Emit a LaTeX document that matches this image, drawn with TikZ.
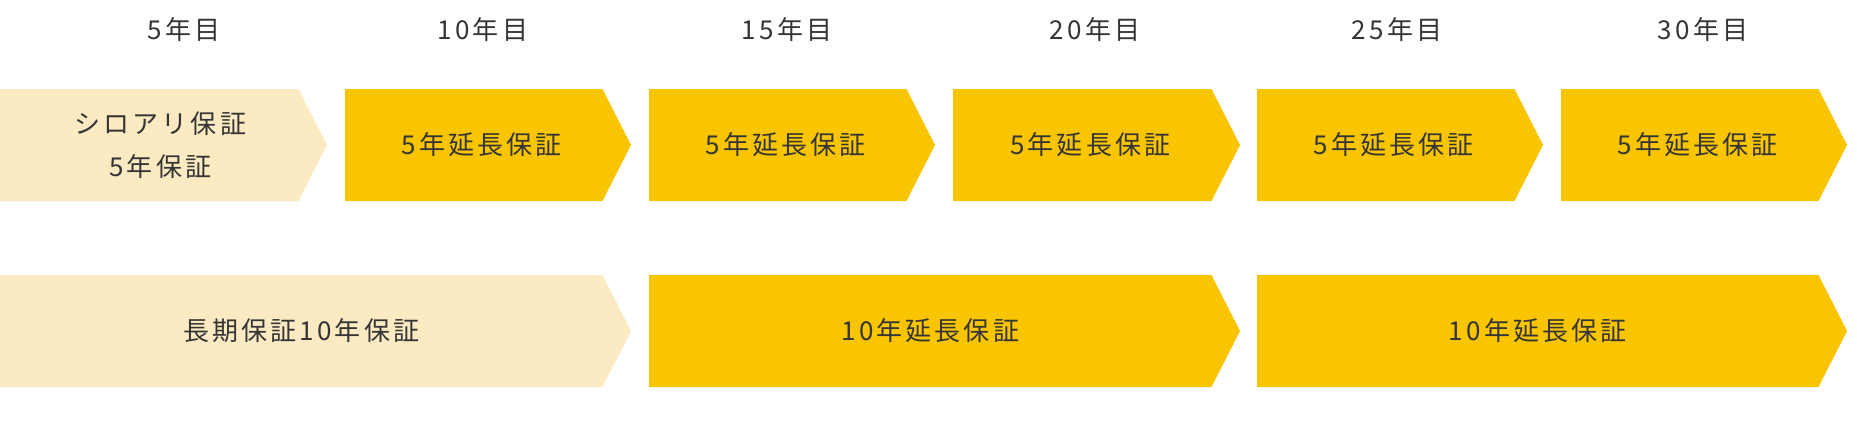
\documentclass[tikz,border=0pt]{standalone}
\usepackage{fontspec}
\setmainfont{Noto Sans CJK JP}[LetterSpace=12]
\usetikzlibrary{shapes.symbols}
\definecolor{paleyellow}{HTML}{FBEAC2}
\definecolor{gold}{HTML}{F9C500}
\definecolor{textgray}{HTML}{353535}
\newcommand{\nudge}{\hspace*{16pt}}
\tikzset{
	plan/.style={signal, signal to=east, signal from=nowhere, signal pointer angle=126, minimum height=112pt, inner sep=0pt, text=textgray, font=\fontsize{26}{43}\selectfont, align=center},
	basic/.style={plan, fill=paleyellow},
	extend/.style={plan, fill=gold},
	year/.style={text=textgray, font=\fontsize{26}{30}\selectfont}
}
\begin{document}
\begin{tikzpicture}[x=1pt, y=-1pt]
		\useasboundingbox (0,0) rectangle (1857,429);
		
		% Years
		\node[year] (y5) at (184,30) {5年目};
		\node[year] (y10) at (483,30) {10年目};
		\node[year] (y15) at (787,30) {15年目};
		\node[year] (y20) at (1095,30) {20年目};
		\node[year] (y25) at (1397,30) {25年目};
		\node[year] (y30) at (1703,30) {30年目};
		
		% Top row - 5 year plans
		\node[basic, minimum width=327pt] (shiroari) at (149.25,145) {\hspace*{22pt}シロアリ保証\\\hspace*{22pt}5年保証};
		\node[extend, minimum width=286pt] (ext10) at (473.75,145) {\nudge 5年延長保証};
		\node[extend, minimum width=286pt] (ext15) at (777.75,145) {\nudge 5年延長保証};
		\node[extend, minimum width=287pt] (ext20) at (1082.25,145) {\nudge 5年延長保証};
		\node[extend, minimum width=286pt] (ext25) at (1385.75,145) {\nudge 5年延長保証};
		\node[extend, minimum width=286pt] (ext30) at (1689.75,145) {\nudge 5年延長保証};
		
		% Bottom row - 10 year plans
		\node[basic, minimum width=631pt] (longterm) at (301.25,331) {長期保証10年保証};
		\node[extend, minimum width=591pt] (long20) at (930.25,331) {10年延長保証};
		\node[extend, minimum width=590pt] (long30) at (1537.75,331) {10年延長保証};
	\end{tikzpicture}
\end{document}
